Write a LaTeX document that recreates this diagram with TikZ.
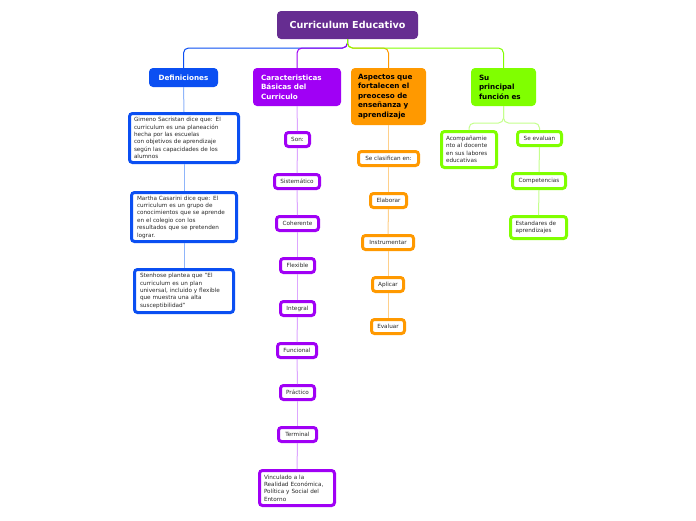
\documentclass[tikz,border=0pt]{standalone}
\usepackage{fontspec}
\setmainfont{DejaVu Sans}
\definecolor{rootc}{HTML}{662D91}
\definecolor{bluc}{HTML}{0B4FF2}
\definecolor{purc}{HTML}{A000F5}
\definecolor{orac}{HTML}{FF9900}
\definecolor{grec}{HTML}{80FF00}
\definecolor{blul}{HTML}{8FB5FA}
\definecolor{purl}{HTML}{DDA6FF}
\definecolor{oral}{HTML}{FFD08A}
\definecolor{grel}{HTML}{C4FF8C}
\definecolor{txt}{HTML}{2A2A2A}
\tikzset{
  hdr/.style={rounded corners=4pt, inner sep=0pt, font=\bfseries\fontsize{7.2}{9.4}\selectfont, align=left},
  kid/.style={draw, line width=3pt, fill=white, rounded corners=3pt, inner sep=0pt,
    font=\fontsize{5.7}{7.4}\selectfont, align=left, text=txt},
  topl/.style={line width=1pt, rounded corners=5pt},
  subl/.style={line width=1pt, rounded corners=5pt}
}
\begin{document}
\begin{tikzpicture}[x=1pt,y=-1pt]
\useasboundingbox[fill=white] (0,0) rectangle (696,520);
% root and headers
\node[rounded corners=4pt, fill=rootc, text=white, font=\bfseries\fontsize{9.6}{11}\selectfont,
  minimum width=141pt, minimum height=28pt, inner sep=0pt] (root) at (347.5,25) {Curriculum Educativo};
\node[hdr, fill=bluc, text=white, minimum width=69pt, minimum height=19pt, align=center] (def) at (183.5,77.5) {Definiciones};
\node[hdr, fill=purc, text=white, minimum width=88pt, minimum height=38pt, text width=72pt] (car) at (297,87) {Caracteristicas\\Básicas del\\Curriculo};
\node[hdr, fill=orac, text=black, minimum width=75pt, minimum height=57pt, text width=61pt] (asp) at (388.5,96.5) {Aspectos que\\fortalecen el\\preoceso de\\enseñanza y\\aprendizaje};
\node[hdr, fill=grec, text=black, minimum width=65pt, minimum height=38pt, text width=49pt] (fun) at (503.5,87) {Su\\principal\\función es};
\coordinate (hy) at (0,48);
\draw[topl, bluc] (root.south) -- (root.south |- hy) -| (def.north);
\draw[topl, purc] (root.south) -- (root.south |- hy) -| (car.north);
\draw[topl, orac] (root.south) -- (root.south |- hy) -| (asp.north);
\draw[topl, grec] (root.south) -- (root.south |- hy) -| (fun.north);
% blue kids
\node[kid, draw=bluc, minimum width=109pt, minimum height=49pt, text width=100pt] (gim) at (184,138) {Gimeno Sacristan dice que: El\\curriculum es una planeación\\hecha por las escuelas\\con objetivos de aprendizaje\\según las capacidades de los\\alumnos};
\node[kid, draw=bluc, minimum width=105pt, minimum height=49pt, text width=94pt] (mar) at (184,217) {Martha Casarini dice que: El\\curriculum es un grupo de\\conocimientos que se aprende\\en el colegio con los\\resultados que se pretenden\\lograr.};
\node[kid, draw=bluc, minimum width=99pt, minimum height=43pt, text width=88pt] (ste) at (184,291) {Stenhose plantea que "El\\curriculum es un plan\\universal, incluido y flexible\\que muestra una alta\\susceptibilidad"};
\draw[subl, blul] (def.south) -- (gim.north);
\draw[subl, blul] (gim.south) -- (mar.north);
\draw[subl, blul] (mar.south) -- (ste.north);
% purple kids
\node[kid, draw=purc, minimum width=24pt, minimum height=14pt] (son) at (297.5,139.5) {Son:};
\node[kid, draw=purc, minimum width=45pt, minimum height=14pt] (sis) at (297,181.5) {Sistemático};
\node[kid, draw=purc, minimum width=42pt, minimum height=14pt] (coh) at (297.5,223.5) {Coherente};
\node[kid, draw=purc, minimum width=34pt, minimum height=14pt] (flex) at (297.5,265.5) {Flexible};
\node[kid, draw=purc, minimum width=34pt, minimum height=14pt] (intg) at (297.5,308.5) {Integral};
\node[kid, draw=purc, minimum width=39pt, minimum height=14pt] (func) at (297,350.5) {Funcional};
\node[kid, draw=purc, minimum width=34pt, minimum height=14pt] (prac) at (297.5,392.5) {Práctico};
\node[kid, draw=purc, minimum width=38pt, minimum height=14pt] (term) at (297.5,434.5) {Terminal};
\node[kid, draw=purc, minimum width=75pt, minimum height=35pt, text width=66pt] (vin) at (297,488) {Vinculado a la\\Realidad Económica,\\Política y Social del\\Entorno};
\draw[subl, purl] (car.south) -- (son.north);
\draw[subl, purl] (son.south) -- (sis.north);
\draw[subl, purl] (sis.south) -- (coh.north);
\draw[subl, purl] (coh.south) -- (flex.north);
\draw[subl, purl] (flex.south) -- (intg.north);
\draw[subl, purl] (intg.south) -- (func.north);
\draw[subl, purl] (func.south) -- (prac.north);
\draw[subl, purl] (prac.south) -- (term.north);
\draw[subl, purl] (term.south) -- (vin.north);
% orange kids
\node[kid, draw=orac, minimum width=60pt, minimum height=14pt] (sec) at (388.5,158.5) {Se clasifican en:};
\node[kid, draw=orac, minimum width=36pt, minimum height=14pt] (elab) at (388.5,200.5) {Elaborar};
\node[kid, draw=orac, minimum width=51pt, minimum height=14pt] (ins) at (388,242.5) {Instrumentar};
\node[kid, draw=orac, minimum width=31pt, minimum height=14pt] (apl) at (388,284.5) {Aplicar};
\node[kid, draw=orac, minimum width=33pt, minimum height=14pt] (eva) at (388,326.5) {Evaluar};
\draw[subl, oral] (asp.south) -- (sec.north);
\draw[subl, oral] (sec.south) -- (elab.north);
\draw[subl, oral] (elab.south) -- (ins.north);
\draw[subl, oral] (ins.south) -- (apl.north);
\draw[subl, oral] (apl.south) -- (eva.north);
% green kids
\node[kid, draw=grec, minimum width=55pt, minimum height=36pt, text width=46pt] (aco) at (469,149.5) {Acompañamie\\nto al docente\\en sus labores\\educativas};
\node[kid, draw=grec, minimum width=44pt, minimum height=14pt] (sev) at (539.5,138.5) {Se evaluan};
\node[kid, draw=grec, minimum width=53pt, minimum height=15pt] (comp) at (539,181) {Competencias};
\node[kid, draw=grec, minimum width=56pt, minimum height=22pt, text width=46pt] (est) at (538.5,227.5) {Estandares de\\aprendizajes};
\coordinate (gy) at (0,123);
\draw[subl, grel] (fun.south) -- (fun.south |- gy) -| (aco.north);
\draw[subl, grel] (fun.south) -- (fun.south |- gy) -| (sev.north);
\draw[subl, grel] (sev.south) -- (comp.north);
\draw[subl, grel] (comp.south) -- (est.north);
\end{tikzpicture}
\end{document}
